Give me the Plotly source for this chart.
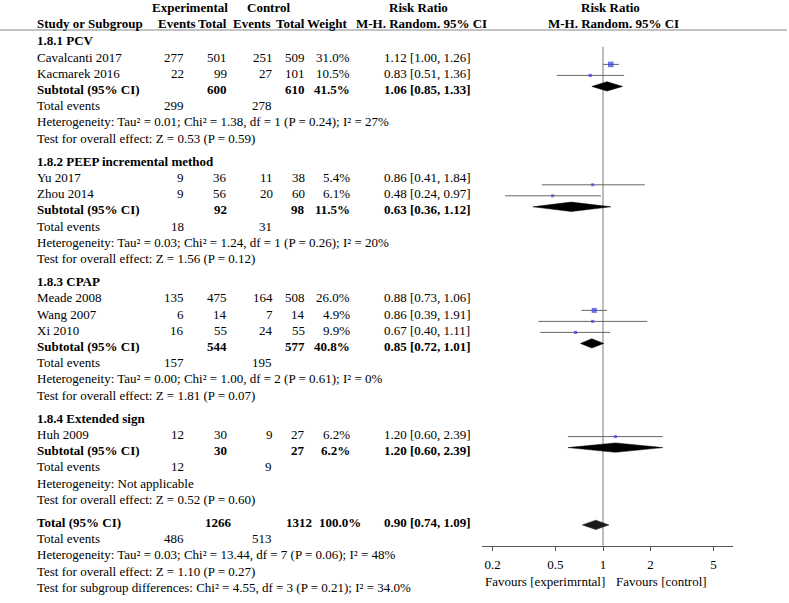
import math
import plotly.graph_objects as go

W, H = 789, 603
FONT = "Liberation Serif"

# ---------------- data ----------------
studies = ["Cavalcanti 2017", "Kacmarek 2016", "Yu 2017", "Zhou 2014",
           "Meade 2008", "Wang 2007", "Xi 2010", "Huh 2009"]
study_group = [0, 0, 1, 1, 2, 2, 2, 3]
exp_events = [277, 22, 9, 9, 135, 6, 16, 12]
exp_total = [501, 99, 36, 56, 475, 14, 55, 30]
ctl_events = [251, 27, 11, 20, 164, 7, 24, 9]
ctl_total = [509, 101, 38, 60, 508, 14, 55, 27]
weights = [31.0, 10.5, 5.4, 6.1, 26.0, 4.9, 9.9, 6.2]
rr = [1.12, 0.83, 0.86, 0.48, 0.88, 0.86, 0.67, 1.20]
rr_lo = [1.00, 0.51, 0.41, 0.24, 0.73, 0.39, 0.40, 0.60]
rr_hi = [1.26, 1.36, 1.84, 0.97, 1.06, 1.91, 1.11, 2.39]

group_names = ["1.8.1 PCV", "1.8.2 PEEP incremental method", "1.8.3 CPAP", "1.8.4 Extended sign"]
sub_exp_total = [600, 92, 544, 30]
sub_ctl_total = [610, 98, 577, 27]
sub_weight = [41.5, 11.5, 40.8, 6.2]
sub_rr = [1.06, 0.63, 0.85, 1.20]
sub_lo = [0.85, 0.36, 0.72, 0.60]
sub_hi = [1.33, 1.12, 1.01, 2.39]
sub_exp_events = [299, 18, 157, 12]
sub_ctl_events = [278, 31, 195, 9]
sub_heterogeneity = [
    "Heterogeneity: Tau² = 0.01; Chi² = 1.38, df = 1 (P = 0.24); I² = 27%",
    "Heterogeneity: Tau² = 0.03; Chi² = 1.24, df = 1 (P = 0.26); I² = 20%",
    "Heterogeneity: Tau² = 0.00; Chi² = 1.00, df = 2 (P = 0.61); I² = 0%",
    "Heterogeneity: Not applicable",
]
sub_effect = [
    "Test for overall effect: Z = 0.53 (P = 0.59)",
    "Test for overall effect: Z = 1.56 (P = 0.12)",
    "Test for overall effect: Z = 1.81 (P = 0.07)",
    "Test for overall effect: Z = 0.52 (P = 0.60)",
]

total_exp_total = 1266
total_ctl_total = 1312
total_weight = 100.0
total_rr, total_lo, total_hi = 0.90, 0.74, 1.09
total_exp_events = 486
total_ctl_events = 513
total_heterogeneity = "Heterogeneity: Tau² = 0.03; Chi² = 13.44, df = 7 (P = 0.06); I² = 48%"
total_effect = "Test for overall effect: Z = 1.10 (P = 0.27)"
subgroup_diff = "Test for subgroup differences: Chi² = 4.55, df = 3 (P = 0.21); I² = 34.0%"

axis_ticks = [0.2, 0.5, 1, 2, 5]
axis_ticktext = ["0.2", "0.5", "1", "2", "5"]
favours_left = "Favours [experimrntal]"
favours_right = "Favours [control]"

# ---------------- layout constants (pixels) ----------------
STEP, GAP = 16.2, 7.0
Y_FIRST = 40.8
X_NAME = 36
X_EXP_EV, X_EXP_TOT, X_CTL_EV, X_CTL_TOT, X_WEIGHT, X_RR = 185, 228, 274, 306, 351, 383
ONE_PX, PX_DECADE = 603.0, 158.0
AX_L, AX_R, AX_Y = 482.0, 733.0, 545.7
LINE_TOP = 46.7

annotations = []


def txt(xpx, y, s, anchor="left", bold=False):
    annotations.append(dict(
        x=xpx / W, xref="paper", y=y, yref="y",
        text=f"<b>{s}</b>" if bold else s,
        showarrow=False, xanchor=anchor, yanchor="middle",
        font=dict(family=FONT, size=13, color="black"), borderpad=0))


def rrfmt(a, b, c):
    return f"{a:.2f} [{b:.2f}, {c:.2f}]"


# headers
txt(189.5, 7, "Experimental", "center", True)
txt(268, 7, "Control", "center", True)
txt(418, 7, "Risk Ratio", "center", True)
txt(610, 7, "Risk Ratio", "center", True)
txt(X_NAME, 23, "Study or Subgroup", "left", True)
txt(197, 23, "Events", "right", True)
txt(228, 23, "Total", "right", True)
txt(272, 23, "Events", "right", True)
txt(306, 23, "Total", "right", True)
txt(348, 23, "Weight", "right", True)
txt(421, 23, "M-H. Random. 95% CI", "center", True)
txt(613, 23, "M-H. Random. 95% CI", "center", True)

fig = go.Figure()

y = Y_FIRST
sq_x, sq_y, sq_s = [], [], []
ci_segments = []
diamonds = []
for g, gname in enumerate(group_names):
    txt(X_NAME, y, gname, "left", True)
    y += STEP
    idx = [i for i, sg in enumerate(study_group) if sg == g]
    n = len(idx)
    start_y = y
    y_sub = start_y + n * STEP
    for k, i in enumerate(idx):
        txt(X_NAME, y, studies[i])
        txt(X_EXP_EV, y, str(exp_events[i]), "right")
        txt(X_EXP_TOT, y, str(exp_total[i]), "right")
        txt(X_CTL_EV, y, str(ctl_events[i]), "right")
        txt(X_CTL_TOT, y, str(ctl_total[i]), "right")
        txt(X_WEIGHT, y, f"{weights[i]:.1f}%", "right")
        txt(X_RR, y, rrfmt(rr[i], rr_lo[i], rr_hi[i]))
        my = y_sub - 3 - 11 * (n - k)
        sq_x.append(rr[i]); sq_y.append(my); sq_s.append(max(3.0, math.sqrt(weights[i])))
        ci_segments.append((rr_lo[i], rr_hi[i], my))
        y += STEP
    txt(X_NAME, y, "Subtotal (95% CI)", "left", True)
    txt(X_EXP_TOT, y, str(sub_exp_total[g]), "right", True)
    txt(X_CTL_TOT, y, str(sub_ctl_total[g]), "right", True)
    txt(X_WEIGHT, y, f"{sub_weight[g]:.1f}%", "right", True)
    txt(X_RR, y, rrfmt(sub_rr[g], sub_lo[g], sub_hi[g]), "left", True)
    diamonds.append((sub_lo[g], sub_rr[g], sub_hi[g], y - 3, "#000000"))
    y += STEP
    txt(X_NAME, y, "Total events")
    txt(X_EXP_EV, y, str(sub_exp_events[g]), "right")
    txt(273, y, str(sub_ctl_events[g]), "right")
    y += STEP
    txt(X_NAME, y, sub_heterogeneity[g])
    y += STEP
    txt(X_NAME, y, sub_effect[g])
    y += STEP + GAP

# overall
txt(X_NAME, y, "Total (95% CI)", "left", True)
txt(233, y, str(total_exp_total), "right", True)
txt(313, y, str(total_ctl_total), "right", True)
txt(362, y, f"{total_weight:.1f}%", "right", True)
txt(X_RR, y, rrfmt(total_rr, total_lo, total_hi), "left", True)
diamonds.append((total_lo, total_rr, total_hi, y + 2.5, "#1a1a1a"))
y += STEP
txt(X_NAME, y, "Total events")
txt(X_EXP_EV, y, str(total_exp_events), "right")
txt(273, y, str(total_ctl_events), "right")
y += STEP
txt(X_NAME, y, total_heterogeneity)
y += STEP
txt(X_NAME, y, total_effect)
y += STEP
txt(X_NAME, y, subgroup_diff)

# favours labels
txt(606, 581, favours_left, "right")
txt(615, 581, favours_right, "left")

# vertical line of no effect
fig.add_trace(go.Scatter(x=[1, 1], y=[LINE_TOP, AX_Y], mode="lines",
                         line=dict(color="#7a7a7a", width=1), hoverinfo="skip"))

# CI lines
cx, cy = [], []
for lo, hi, yy in ci_segments:
    cx += [lo, hi, None]
    cy += [yy, yy, None]
fig.add_trace(go.Scatter(x=cx, y=cy, mode="lines",
                         line=dict(color="#666666", width=1), hoverinfo="skip"))

# squares
fig.add_trace(go.Scatter(x=sq_x, y=sq_y, mode="markers",
                         marker=dict(symbol="square", size=sq_s, color="#3a3ae6",
                                     line=dict(width=0)), hoverinfo="skip"))

# diamonds
for lo, est, hi, yy, col in diamonds:
    fig.add_trace(go.Scatter(x=[lo, est, hi, est, lo], y=[yy, yy - 4.7, yy, yy + 4.7, yy],
                             mode="lines", fill="toself", fillcolor=col,
                             line=dict(color=col, width=0.5), hoverinfo="skip"))

shapes = [dict(type="line", xref="paper", yref="y", x0=0, x1=787 / W, y0=30, y1=30,
               line=dict(color="#888888", width=1))]

fig.update_layout(
    width=W, height=H,
    margin=dict(l=0, r=0, t=0, b=0),
    paper_bgcolor="white", plot_bgcolor="white",
    showlegend=False,
    annotations=annotations,
    shapes=shapes,
    xaxis=dict(
        type="log",
        domain=[AX_L / W, AX_R / W],
        range=[(AX_L - ONE_PX) / PX_DECADE, (AX_R - ONE_PX) / PX_DECADE],
        anchor="free", position=1 - AX_Y / H,
        showline=True, linecolor="#555555", linewidth=1,
        ticks="outside", ticklen=4, tickcolor="#555555",
        ticklabelstandoff=3,
        tickvals=axis_ticks, ticktext=axis_ticktext,
        tickfont=dict(family=FONT, size=13, color="black"),
        showgrid=False, zeroline=False,
    ),
    yaxis=dict(range=[H, 0], domain=[0, 1], visible=False, showgrid=False, zeroline=False),
)

fig.write_html(
    "out.html",
    config={"displayModeBar": False},
    post_script="document.body.style.margin='0';document.body.style.padding='0';document.body.style.overflow='hidden';",
)
